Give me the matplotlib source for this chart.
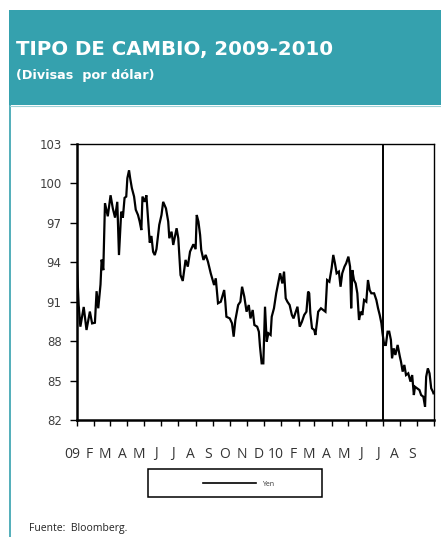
import matplotlib
matplotlib.use("Agg")
import matplotlib.pyplot as plt
import matplotlib.dates as mdates
from matplotlib.patches import Rectangle
from matplotlib.lines import Line2D
import pandas as pd

# ---- data ----
dates = [
    "2009-01-01", "2009-01-04", "2009-01-07", "2009-01-13", "2009-01-18", "2009-01-24", "2009-01-28",
    "2009-02-02", "2009-02-05", "2009-02-08", "2009-02-12", "2009-02-14", "2009-02-17", "2009-02-20", "2009-02-25",
    "2009-03-02", "2009-03-06", "2009-03-10", "2009-03-14", "2009-03-17", "2009-03-21", "2009-03-24", "2009-03-27", "2009-03-30",
    "2009-04-01", "2009-04-04", "2009-04-06", "2009-04-09", "2009-04-13", "2009-04-16", "2009-04-20", "2009-04-23", "2009-04-26", "2009-04-28",
    "2009-05-02", "2009-05-05", "2009-05-08", "2009-05-11", "2009-05-14", "2009-05-17", "2009-05-20", "2009-05-23", "2009-05-28",
    "2009-06-01", "2009-06-04", "2009-06-09", "2009-06-13", "2009-06-15", "2009-06-19", "2009-06-22", "2009-06-28",
    "2009-07-01", "2009-07-05", "2009-07-09", "2009-07-14", "2009-07-18", "2009-07-22", "2009-07-28",
    "2009-08-01", "2009-08-03", "2009-08-06", "2009-08-09", "2009-08-11", "2009-08-15", "2009-08-19", "2009-08-23", "2009-08-28",
    "2009-09-03", "2009-09-06", "2009-09-10", "2009-09-15", "2009-09-21", "2009-09-23", "2009-09-25",
    "2009-10-01", "2009-10-05", "2009-10-08", "2009-10-11", "2009-10-16", "2009-10-20", "2009-10-23", "2009-10-27", "2009-10-31",
    "2009-11-04", "2009-11-07", "2009-11-11", "2009-11-14", "2009-11-19", "2009-11-22", "2009-11-24", "2009-11-27", "2009-11-30",
    "2009-12-03", "2009-12-06", "2009-12-09", "2009-12-13", "2009-12-15", "2009-12-19", "2009-12-23", "2009-12-27", "2009-12-30",
    "2010-01-03", "2010-01-06", "2010-01-09", "2010-01-12", "2010-01-16", "2010-01-20", "2010-01-23", "2010-01-27", "2010-01-30",
    "2010-02-03", "2010-02-07", "2010-02-11", "2010-02-15", "2010-02-18", "2010-02-20", "2010-02-22", "2010-02-25",
    "2010-03-01", "2010-03-03", "2010-03-06", "2010-03-08", "2010-03-13", "2010-03-17", "2010-03-21", "2010-03-24", "2010-03-28",
    "2010-04-01", "2010-04-04", "2010-04-07", "2010-04-10", "2010-04-14", "2010-04-17", "2010-04-20", "2010-04-24", "2010-04-27",
    "2010-05-01", "2010-05-04", "2010-05-06", "2010-05-08", "2010-05-11", "2010-05-14", "2010-05-17", "2010-05-20", "2010-05-23", "2010-05-26", "2010-05-29",
    "2010-06-02", "2010-06-05", "2010-06-08", "2010-06-11", "2010-06-16", "2010-06-20", "2010-06-23", "2010-06-26", "2010-06-29",
    "2010-07-01", "2010-07-04", "2010-07-07", "2010-07-10", "2010-07-13", "2010-07-16", "2010-07-18", "2010-07-21", "2010-07-24", "2010-07-28",
    "2010-08-01", "2010-08-03", "2010-08-06", "2010-08-09", "2010-08-12", "2010-08-16", "2010-08-20", "2010-08-23", "2010-08-26", "2010-08-28",
    "2010-09-01", "2010-09-05", "2010-09-08", "2010-09-12", "2010-09-15", "2010-09-17", "2010-09-20", "2010-09-23", "2010-09-26", "2010-09-29", "2010-09-30",
]
yen = [
    93.67, 90.75, 89.10, 90.60, 88.85, 90.25, 89.35,
    89.40, 91.80, 90.50, 92.30, 94.20, 93.40, 98.50, 97.50,
    99.10, 98.10, 97.40, 98.60, 94.55, 97.85, 97.40, 98.90, 99.00,
    100.40, 101.00, 100.40, 99.65, 99.00, 98.00, 97.60, 97.10, 96.45, 99.00,
    98.60, 99.10, 97.25, 95.50, 96.00, 94.80, 94.55, 95.00, 96.85,
    97.60, 98.60, 98.10, 97.10, 95.83, 96.33, 95.32, 96.59,
    95.83, 93.03, 92.58, 94.18, 93.67, 94.81, 95.37,
    95.00, 97.60, 97.09, 96.08, 94.94, 94.18, 94.56, 94.05, 93.16,
    92.27, 92.78, 90.88, 91.00, 91.89, 91.00, 89.86,
    89.73, 89.36, 88.34, 89.60, 90.75, 91.00, 92.14, 91.38, 90.24,
    90.75, 89.73, 90.37, 89.23, 89.10, 88.72, 87.60, 86.31, 86.31,
    90.62, 87.96, 88.60, 88.47, 89.86, 90.50, 91.64, 92.52, 93.16,
    92.39, 93.29, 91.26, 91.00, 90.75, 89.99, 89.73, 90.24, 90.62,
    89.10, 89.48, 89.99, 90.24, 91.77, 91.64, 90.11, 88.98,
    88.85, 88.47, 89.48, 90.24, 90.50, 90.37, 90.24, 92.65, 92.52,
    93.54, 94.56, 93.92, 93.16, 93.29, 92.14, 93.16, 93.67, 93.92,
    94.43, 93.67, 90.50, 93.41, 92.65, 92.39, 91.64, 89.61, 90.24, 89.99, 91.13,
    91.00, 92.65, 91.89, 91.64, 91.64, 91.13, 90.50, 89.99, 89.36,
    88.60, 87.71, 87.71, 88.72, 88.72, 88.09, 86.69, 87.45, 86.95, 87.71,
    86.82, 86.44, 85.68, 86.19, 85.42, 85.55, 84.92, 85.42, 83.90, 84.53,
    84.41, 84.28, 83.90, 83.77, 83.01, 85.29, 85.93, 85.55, 84.41, 84.16, 84.03,
]
month_labels = ["09", "F", "M", "A", "M", "J", "J", "A", "S", "O", "N", "D",
                "10", "F", "M", "A", "M", "J", "J", "A", "S"]
y_ticks = [82, 85, 88, 91, 94, 97, 100, 103]
marker_date = "2010-07-01"
series_name = "Yen"

# ---- figure ----
W, H = 441, 537
fig = plt.figure(figsize=(W / 100, H / 100), dpi=100)
fig.patch.set_facecolor("white")

def fx(px):
    return px / W

def fy(py):
    return 1 - py / H

teal = "#35A1AE"
# header band
fig.add_artist(Rectangle((fx(9), fy(105)), fx(W - 9), 95 / H, transform=fig.transFigure,
                         facecolor=teal, edgecolor="none", zorder=0))
# panel border (left + top)
fig.add_artist(Line2D([fx(10), fx(10)], [fy(105), fy(H)], transform=fig.transFigure,
                      color=teal, lw=1.2))
fig.add_artist(Line2D([fx(10), fx(W)], [fy(106), fy(106)], transform=fig.transFigure,
                      color="#9fd0d6", lw=0.8))

fig.text(fx(16), fy(50), "TIPO DE CAMBIO, 2009-2010", color="white", fontsize=14.2,
         fontweight="bold", family="DejaVu Sans", va="center", ha="left")
fig.text(fx(16), fy(75), "(Divisas  por dólar)", color="white", fontsize=9.2,
         fontweight="bold", family="DejaVu Sans", va="center", ha="left")

# ---- axes ----
ax = fig.add_axes([fx(77), fy(420), fx(434 - 77), (420 - 144) / H])
x = pd.to_datetime(dates)
ax.plot(x, yen, color="black", lw=1.6, solid_joinstyle="miter")
ax.axvline(pd.Timestamp(marker_date), color="black", lw=1.4)

ax.set_xlim(pd.Timestamp("2009-01-01"), pd.Timestamp("2010-10-01"))
ax.set_ylim(82, 103)
ax.set_yticks(y_ticks)
ax.set_yticklabels([str(v) for v in y_ticks], fontsize=8.5, color="#404040", family="DejaVu Sans")
ax.tick_params(axis="y", direction="out", length=5, width=1, pad=6, color="black")

month_starts = pd.date_range("2009-01-01", "2010-10-01", freq="MS")
ax.set_xticks(month_starts)
ax.set_xticklabels([""] * len(month_starts))
ax.tick_params(axis="x", direction="out", length=4, width=1, color="black")
# month labels placed slightly before each month's tick
for d, lab in zip(month_starts[:-1], month_labels):
    ax.annotate(lab, xy=(mdates.date2num(d), 0), xycoords=("data", "axes fraction"),
                xytext=(-5, -34), textcoords="offset pixels", ha="center", va="center",
                fontsize=10, color="#333333", family="Open Sans")

for s in ["left", "bottom"]:
    ax.spines[s].set_linewidth(1.8)
for s in ["top", "right"]:
    ax.spines[s].set_linewidth(1.0)

# ---- legend box ----
fig.add_artist(Rectangle((fx(148), fy(497)), fx(322 - 148), 28 / H, transform=fig.transFigure,
                         facecolor="white", edgecolor="black", lw=1.1))
fig.add_artist(Line2D([fx(203), fx(256)], [fy(483), fy(483)], transform=fig.transFigure,
                      color="black", lw=1.2))
fig.text(fx(262), fy(485), series_name, fontsize=5, color="#333333", va="center", ha="left",
         family="Open Sans")

fig.text(fx(29), fy(529), "Fuente:  Bloomberg.", fontsize=7.5, color="#222222", va="center",
         ha="left", family="Open Sans")

fig.savefig("out.png", dpi=100, facecolor="white")
